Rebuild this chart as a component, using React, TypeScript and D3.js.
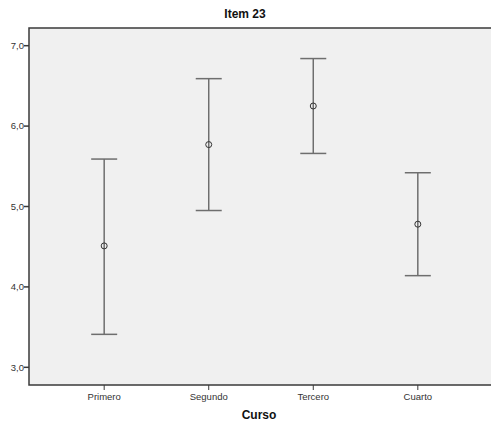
import { useEffect, useRef } from 'react';
import * as d3 from 'd3';

// --- data ---
const categories = ['Primero', 'Segundo', 'Tercero', 'Cuarto'];
const means = [4.51, 5.77, 6.25, 4.78];
const upper = [5.59, 6.59, 6.84, 5.42];
const lower = [3.41, 4.95, 5.66, 4.14];
const yTicks = [3, 4, 5, 6, 7];

const W = 491;
const H = 425;
const font = 'Liberation Sans, Arial, sans-serif';

function App() {
  const svgRef = useRef<SVGSVGElement>(null);

  useEffect(() => {
    const svg = d3.select(svgRef.current);
    svg.selectAll('*').remove();

    const left = 29;
    const right = 495; // runs past the window edge, no right border
    const top = 28;
    const bottom = 385;

    const x = d3.scalePoint<string>().domain(categories).range([31, 491]).padding(0.7);
    const y = d3.scaleLinear().domain([2.78, 7.22]).range([bottom, top]);

    // plot background
    svg.append('rect')
      .attr('x', left).attr('y', top)
      .attr('width', right - left).attr('height', bottom - top)
      .attr('fill', '#f0f0f0');

    // frame: top, left, bottom
    svg.append('path')
      .attr('d', `M${right},${top}H${left}V${bottom}H${right}`)
      .attr('fill', 'none')
      .attr('stroke', '#3a3a3a')
      .attr('stroke-width', 1.5);

    // y axis ticks + labels
    const yg = svg.append('g');
    yTicks.forEach(t => {
      yg.append('line')
        .attr('x1', left - 5).attr('x2', left)
        .attr('y1', y(t)).attr('y2', y(t))
        .attr('stroke', '#3a3a3a').attr('stroke-width', 1.5);
      yg.append('text')
        .attr('x', left - 5).attr('y', y(t))
        .attr('dy', '0.35em')
        .attr('text-anchor', 'end')
        .style('font-family', font).style('font-size', '9.5px').style('fill', '#333')
        .text(t.toFixed(1).replace('.', ','));
    });

    // x axis ticks + labels
    categories.forEach(c => {
      svg.append('line')
        .attr('x1', x(c)!).attr('x2', x(c)!)
        .attr('y1', bottom).attr('y2', bottom + 5)
        .attr('stroke', '#3a3a3a').attr('stroke-width', 1);
      svg.append('text')
        .attr('x', x(c)!).attr('y', bottom + 15)
        .attr('text-anchor', 'middle')
        .style('font-family', font).style('font-size', '9.5px').style('fill', '#333')
        .text(c);
    });

    // error bars
    const cap = 13;
    categories.forEach((c, i) => {
      const cx = x(c)!;
      const g = svg.append('g').attr('stroke', '#6e6e6e').attr('stroke-width', 1.5);
      g.append('line').attr('x1', cx).attr('x2', cx).attr('y1', y(upper[i])).attr('y2', y(lower[i]));
      g.append('line').attr('x1', cx - cap).attr('x2', cx + cap).attr('y1', y(upper[i])).attr('y2', y(upper[i]));
      g.append('line').attr('x1', cx - cap).attr('x2', cx + cap).attr('y1', y(lower[i])).attr('y2', y(lower[i]));
      svg.append('circle')
        .attr('cx', cx).attr('cy', y(means[i])).attr('r', 3)
        .attr('fill', 'none').attr('stroke', '#333').attr('stroke-width', 1);
    });

    // title and axis title
    svg.append('text')
      .attr('x', 245).attr('y', 18)
      .attr('text-anchor', 'middle')
      .style('font-family', font).style('font-size', '12px').style('font-weight', 'bold').style('fill', '#111')
      .text('Item 23');

    svg.append('text')
      .attr('x', 259).attr('y', 419)
      .attr('text-anchor', 'middle')
      .style('font-family', font).style('font-size', '12px').style('font-weight', 'bold').style('fill', '#111')
      .text('Curso');
  }, []);

  return (
    <svg
      ref={svgRef}
      width={W}
      height={H}
      style={{ position: 'absolute', left: 0, top: 0, background: '#fff' }}
    />
  );
}

export default App;
